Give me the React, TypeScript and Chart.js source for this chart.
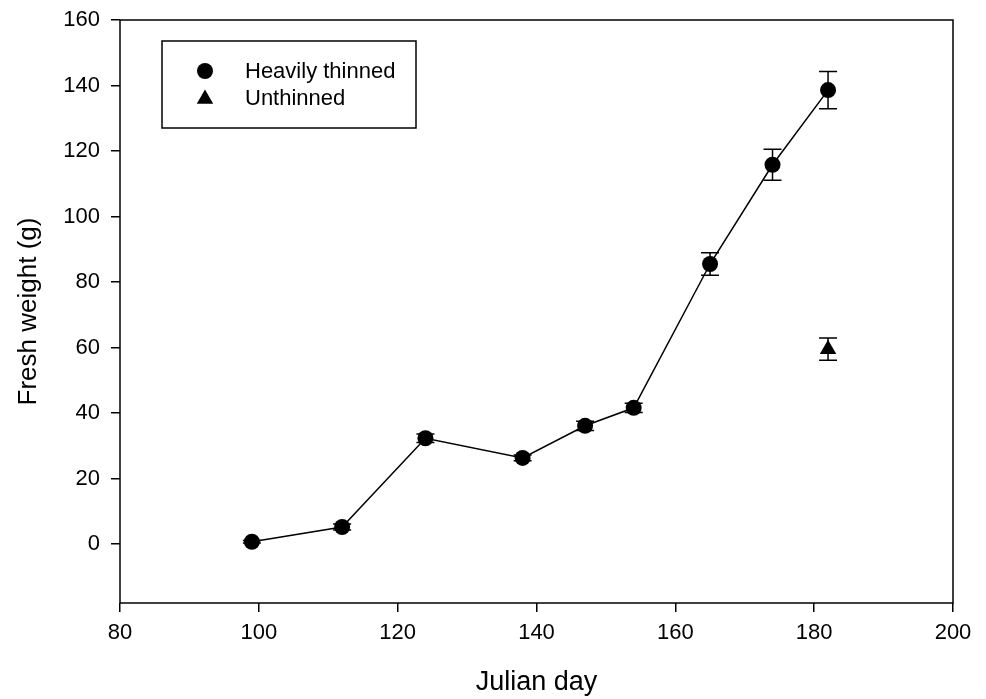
import React, { useEffect, useRef } from "react";
import { Chart, registerables } from "chart.js";

Chart.register(...registerables);

const FONT = "'Liberation Sans', Arial, Helvetica, sans-serif";

const thinnedDays = [99, 112, 124, 138, 147, 154, 165, 174, 182];
const thinnedWeight = [0.7, 5.2, 32.3, 26.3, 36.1, 41.6, 85.5, 115.8, 138.6];
const thinnedErr = [0.4, 0.9, 1.3, 0.9, 1.4, 1.4, 3.4, 4.7, 5.7];

const unthinnedDays = [182];
const unthinnedWeight = [59.5];
const unthinnedErr = [3.4];

const xTicks = [80, 100, 120, 140, 160, 180, 200];
const yTicks = [0, 20, 40, 60, 80, 100, 120, 140, 160];

const legendLabels = ["Heavily thinned", "Unthinned"];

const frameAndErrors = {
  id: "frameAndErrors",
  beforeDatasetsDraw(chart: any) {
    const ctx = chart.ctx;
    const xs = chart.scales.x;
    const ys = chart.scales.y;
    ctx.save();
    ctx.strokeStyle = "#000";
    ctx.lineWidth = 1.5;
    chart.data.datasets.forEach((ds: any) => {
      const errs = ds.errors || [];
      ds.data.forEach((p: any, i: number) => {
        const e = errs[i];
        if (!e) return;
        const px = xs.getPixelForValue(p.x);
        const top = ys.getPixelForValue(p.y + e);
        const bot = ys.getPixelForValue(p.y - e);
        ctx.beginPath();
        ctx.moveTo(px, top);
        ctx.lineTo(px, bot);
        ctx.moveTo(px - 9, top);
        ctx.lineTo(px + 9, top);
        ctx.moveTo(px - 9, bot);
        ctx.lineTo(px + 9, bot);
        ctx.stroke();
      });
    });
    ctx.restore();
  },
  afterDraw(chart: any) {
    const ctx = chart.ctx;
    const a = chart.chartArea;
    ctx.save();
    ctx.strokeStyle = "#000";
    ctx.lineWidth = 1.5;
    ctx.strokeRect(a.left, a.top, a.right - a.left, a.bottom - a.top);

    // legend box
    ctx.strokeRect(162, 41, 254, 87);
    ctx.fillStyle = "#000";
    ctx.font = `22px ${FONT}`;
    ctx.textBaseline = "middle";
    ctx.textAlign = "left";
    const rows = [71, 98];
    ctx.beginPath();
    ctx.arc(205, rows[0], 8, 0, Math.PI * 2);
    ctx.fill();
    const r = 9.5;
    const cy = rows[1] + 1;
    ctx.beginPath();
    ctx.moveTo(205, cy - r);
    ctx.lineTo(205 + (r * Math.sqrt(3)) / 2, cy + r / 2);
    ctx.lineTo(205 - (r * Math.sqrt(3)) / 2, cy + r / 2);
    ctx.closePath();
    ctx.fill();
    ctx.fillText(legendLabels[0], 245, rows[0] + 1);
    ctx.fillText(legendLabels[1], 245, rows[1] + 1);
    ctx.restore();
  },
};

export default function App() {
  const ref = useRef<HTMLCanvasElement>(null);
  useEffect(() => {
    if (!ref.current) return;
    const chart = new Chart(ref.current, {
      type: "scatter",
      data: {
        datasets: [
          {
            label: legendLabels[0],
            data: thinnedDays.map((d, i) => ({ x: d, y: thinnedWeight[i] })),
            errors: thinnedErr,
            showLine: true,
            borderColor: "#000",
            borderWidth: 1.5,
            backgroundColor: "#000",
            pointStyle: "circle",
            pointRadius: 8,
            pointBorderWidth: 0,
            pointBackgroundColor: "#000",
          } as any,
          {
            label: legendLabels[1],
            data: unthinnedDays.map((d, i) => ({ x: d, y: unthinnedWeight[i] })),
            errors: unthinnedErr,
            showLine: false,
            borderColor: "#000",
            backgroundColor: "#000",
            pointStyle: "triangle",
            pointRadius: 9.5,
            pointBorderWidth: 0,
            pointBackgroundColor: "#000",
          } as any,
        ],
      },
      options: {
        animation: false,
        responsive: false,
        maintainAspectRatio: false,
        layout: { padding: { top: 20, right: 33, left: 0, bottom: 0 } },
        plugins: {
          legend: { display: false },
          tooltip: { enabled: false },
        },
        scales: {
          x: {
            type: "linear",
            min: 80,
            max: 200,
            afterFit(scale: any) {
              scale.height = 96;
              scale.paddingLeft = 0;
              scale.paddingRight = 0;
            },
            afterBuildTicks(scale: any) {
              scale.ticks = xTicks.map((v) => ({ value: v }));
            },
            border: { display: false },
            grid: {
              display: true,
              drawOnChartArea: false,
              drawTicks: true,
              tickLength: 9,
              color: "#000",
              lineWidth: 1.5,
            },
            ticks: {
              color: "#000",
              font: { family: FONT, size: 22 },
              padding: 8,
              maxRotation: 0,
              autoSkip: false,
            },
            title: {
              display: true,
              text: "Julian day",
              color: "#000",
              font: { family: FONT, size: 27 },
              padding: { top: 9, bottom: 0 },
            },
          },
          y: {
            type: "linear",
            min: -18,
            max: 160,
            afterFit(scale: any) {
              scale.width = 120;
              scale.paddingTop = 0;
              scale.paddingBottom = 0;
            },
            afterBuildTicks(scale: any) {
              scale.ticks = yTicks.map((v) => ({ value: v }));
            },
            border: { display: false },
            grid: {
              display: true,
              drawOnChartArea: false,
              drawTicks: true,
              tickLength: 9,
              color: "#000",
              lineWidth: 1.5,
            },
            ticks: {
              color: "#000",
              font: { family: FONT, size: 22 },
              padding: 11,
              autoSkip: false,
            },
            title: {
              display: true,
              text: "Fresh weight (g)",
              color: "#000",
              font: { family: FONT, size: 26 },
              padding: { top: 13, bottom: 0 },
            },
          },
        },
      },
      plugins: [frameAndErrors],
    } as any);
    return () => chart.destroy();
  }, []);

  return (
    <div style={{ position: "fixed", left: 0, top: 0, width: 986, height: 699, background: "#fff" }}>
      <canvas ref={ref} width={986} height={699} style={{ width: 986, height: 699, display: "block" }} />
    </div>
  );
}
